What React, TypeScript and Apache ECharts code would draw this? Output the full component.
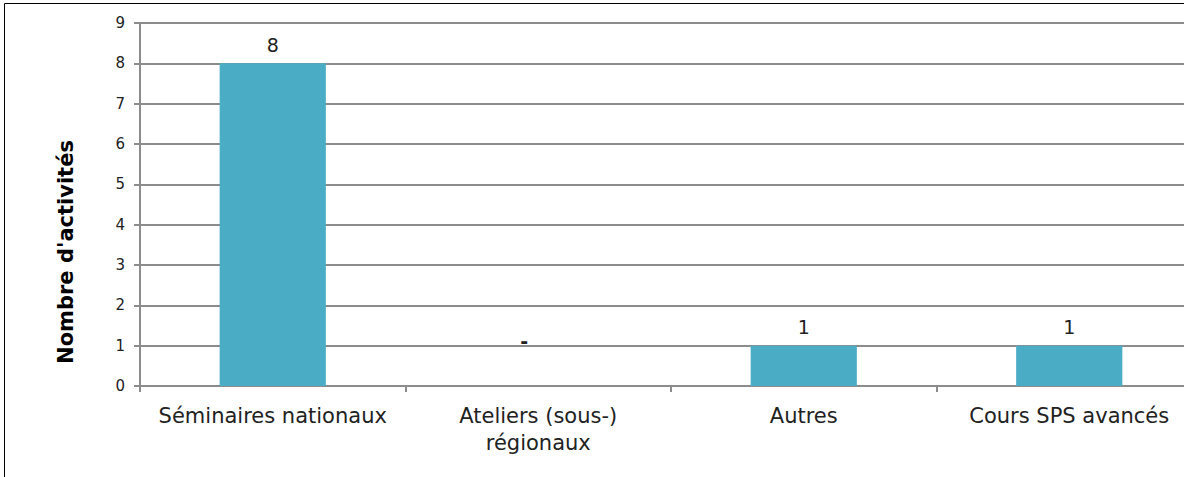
import React, { useEffect, useRef } from "react";
import * as echarts from "echarts";

const categories = ["Séminaires nationaux", "Ateliers (sous-)\nrégionaux", "Autres", "Cours SPS avancés"];
const values = [8, 0, 1, 1];
const labelTexts = ["8", "-", "1", "1"];
const yTicks = [0, 9, 1];
const yTitle = "Nombre d'activités";

export default function App() {
  const ref = useRef<HTMLDivElement>(null);
  useEffect(() => {
    document.body.style.margin = "0";
    const chart = echarts.init(ref.current!, undefined, { renderer: "svg" });
    const font = "'DejaVu Sans', Verdana, sans-serif";
    chart.setOption({
      animation: false,
      backgroundColor: "#fff",
      graphic: [
        {
          type: "rect",
          shape: { x: 4.5, y: 3.5, width: 1250, height: 600 },
          style: { fill: "none", stroke: "#000", lineWidth: 1 },
          silent: true,
        },
        {
          type: "text",
          x: 66,
          y: 252,
          rotation: Math.PI / 2,
          style: {
            text: yTitle,
            fill: "#000",
            font: `bold 21px ${font}`,
            textAlign: "center",
            textVerticalAlign: "middle",
          },
          silent: true,
        },
      ],
      grid: { left: 140, top: 23, width: 1062, height: 363 },
      xAxis: {
        type: "category",
        data: categories,
        axisLine: { lineStyle: { color: "#8c8c8c", width: 2 } },
        axisTick: { show: true, length: 6, lineStyle: { color: "#8c8c8c", width: 2 }, alignWithLabel: false },
        axisLabel: { color: "#222", fontFamily: font, fontSize: 21, margin: 16, lineHeight: 27, interval: 0 },
      },
      yAxis: {
        type: "value",
        min: yTicks[0],
        max: yTicks[1],
        interval: yTicks[2],
        axisLine: { show: true, lineStyle: { color: "#8c8c8c", width: 2 } },
        axisTick: { show: true, length: 6, lineStyle: { color: "#8c8c8c", width: 2 } },
        axisLabel: { color: "#222", fontFamily: font, fontSize: 15, margin: 15 },
        splitLine: { lineStyle: { color: "#8c8c8c", width: 2 } },
      },
      series: [
        {
          type: "bar",
          barWidth: "40%",
          itemStyle: { color: "#4bacc6" },
          data: values.map((v, i) =>
            v === 0
              ? { value: v, label: { show: true, position: "top", formatter: labelTexts[i], offset: [-14, -27], fontWeight: "bold" } }
              : { value: v }
          ),
          label: {
            show: true,
            position: "top",
            distance: 9,
            color: "#222",
            fontFamily: font,
            fontSize: 19,
            formatter: (p: any) => labelTexts[p.dataIndex],
          },
        },
      ],
    });
    return () => chart.dispose();
  }, []);
  return (
    <div style={{ width: 1184, height: 477, overflow: "hidden", position: "relative" }}>
      <div ref={ref} style={{ width: 1240, height: 477 }} />
    </div>
  );
}
